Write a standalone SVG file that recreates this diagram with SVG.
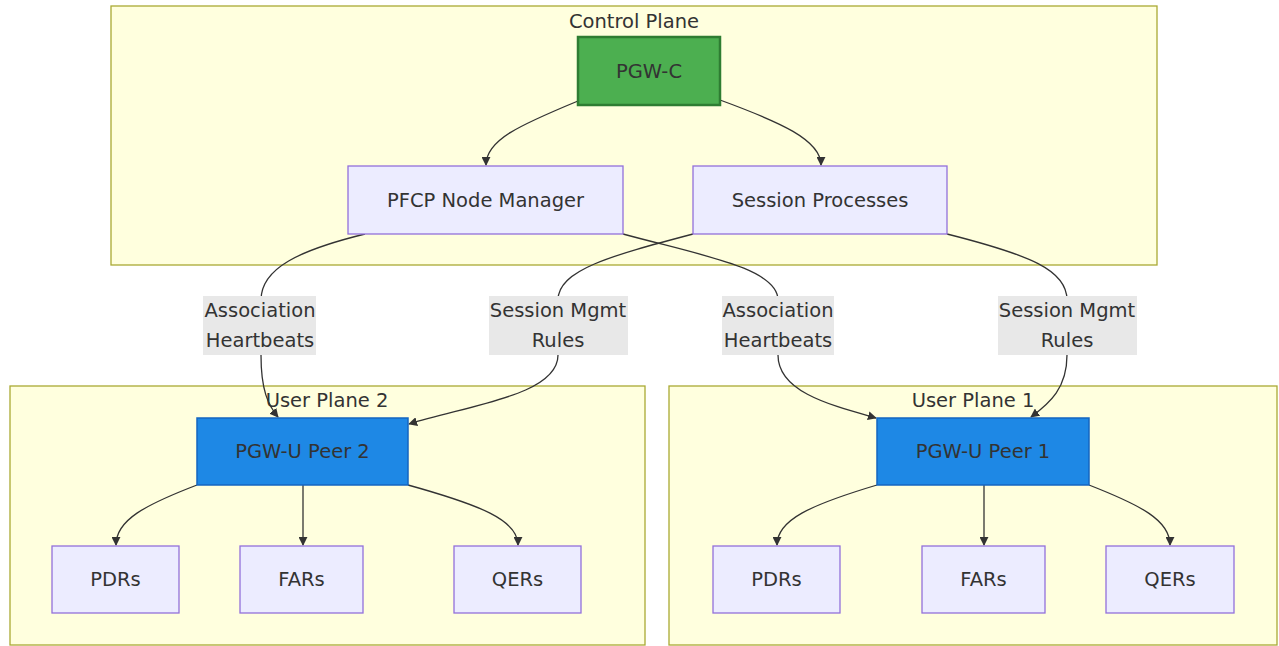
<svg xmlns="http://www.w3.org/2000/svg" width="1279" height="646" viewBox="0 0 1279 646">
<style>
text{font-family:"DejaVu Sans","Liberation Sans",sans-serif;font-size:19.5px;fill:#333;text-anchor:middle;dominant-baseline:central}
.cluster{fill:#ffffde;stroke:#aaaa33;stroke-width:1.3}
.node{fill:#ececff;stroke:#9370db;stroke-width:1.3}
.green{fill:#4caf50;stroke:#2e7d32;stroke-width:2.5}
.blue{fill:#1e88e5;stroke:#1565c0;stroke-width:1.5}
.edge{fill:none;stroke:#333;stroke-width:1.3;marker-end:url(#arr)}
.lbl{fill:#e8e8e8}
</style>
<defs>
<marker id="arr" viewBox="0 0 10 10" refX="9" refY="5" markerWidth="9" markerHeight="9" markerUnits="userSpaceOnUse" orient="auto">
<path d="M0,0 L10,5 L0,10 z" fill="#333"/>
</marker>
</defs>
<rect width="1279" height="646" fill="#fff"/>
<g id="cluster-control">
<rect class="cluster" x="111" y="6" width="1046" height="259"/>
<text x="634" y="21">Control Plane</text>
</g>
<g id="cluster-up2">
<rect class="cluster" x="10" y="386" width="635" height="259"/>
<text x="327" y="400">User Plane 2</text>
</g>
<g id="cluster-up1">
<rect class="cluster" x="669" y="386" width="608" height="259"/>
<text x="973" y="400">User Plane 1</text>
</g>
<g id="edges">
<path class="edge" d="M578,101 C520,125 486,140 486,165"/>
<path class="edge" d="M720,100 C780,122 821,140 821,165"/>
<path class="edge" d="M365,234 C300,250 261,268 261,300 L261,355 C261,390 268,405 278,417"/>
<path class="edge" d="M693,234 C610,256 558,270 558,300 L558,355 C558,395 470,405 409,424"/>
<path class="edge" d="M623,234 C700,255 778,268 778,300 L778,355 C778,392 830,405 876,418"/>
<path class="edge" d="M947,234 C1030,255 1067,270 1067,300 L1067,355 C1067,388 1050,403 1031,417"/>
<path class="edge" d="M197,485 C145,505 116,520 116,545"/>
<path class="edge" d="M303,485 L303,545"/>
<path class="edge" d="M408,485 C480,505 518,520 518,545"/>
<path class="edge" d="M877,485 C810,505 777,520 777,545"/>
<path class="edge" d="M984,485 L984,545"/>
<path class="edge" d="M1089,485 C1140,505 1170,520 1170,545"/>
</g>
<g id="label-assoc2">
<rect class="lbl" x="203" y="296" width="113" height="59"/>
<text x="260" y="310">Association</text>
<text x="260" y="340">Heartbeats</text>
</g>
<g id="label-sess2">
<rect class="lbl" x="489" y="296" width="139" height="59"/>
<text x="558" y="310">Session Mgmt</text>
<text x="558" y="340">Rules</text>
</g>
<g id="label-assoc1">
<rect class="lbl" x="722" y="296" width="112" height="59"/>
<text x="778" y="310">Association</text>
<text x="778" y="340">Heartbeats</text>
</g>
<g id="label-sess1">
<rect class="lbl" x="998" y="296" width="139" height="59"/>
<text x="1067" y="310">Session Mgmt</text>
<text x="1067" y="340">Rules</text>
</g>
<g id="pgwc">
<rect class="green" x="578" y="37" width="142" height="68"/>
<text x="649" y="71">PGW-C</text>
</g>
<g id="pfcp">
<rect class="node" x="348" y="166" width="275" height="68"/>
<text x="485.5" y="200">PFCP Node Manager</text>
</g>
<g id="session">
<rect class="node" x="693" y="166" width="254" height="68"/>
<text x="820" y="200">Session Processes</text>
</g>
<g id="peer2">
<rect class="blue" x="197" y="418" width="211" height="67"/>
<text x="302.5" y="451.5">PGW-U Peer 2</text>
</g>
<g id="peer1">
<rect class="blue" x="877" y="418" width="212" height="67"/>
<text x="983" y="451.5">PGW-U Peer 1</text>
</g>
<g id="pdrs2">
<rect class="node" x="52" y="546" width="127" height="67"/>
<text x="115.5" y="579.5">PDRs</text>
</g>
<g id="fars2">
<rect class="node" x="240" y="546" width="123" height="67"/>
<text x="301.5" y="579.5">FARs</text>
</g>
<g id="qers2">
<rect class="node" x="454" y="546" width="127" height="67"/>
<text x="517.5" y="579.5">QERs</text>
</g>
<g id="pdrs1">
<rect class="node" x="713" y="546" width="127" height="67"/>
<text x="776.5" y="579.5">PDRs</text>
</g>
<g id="fars1">
<rect class="node" x="922" y="546" width="123" height="67"/>
<text x="983.5" y="579.5">FARs</text>
</g>
<g id="qers1">
<rect class="node" x="1106" y="546" width="128" height="67"/>
<text x="1170" y="579.5">QERs</text>
</g>
</svg>
